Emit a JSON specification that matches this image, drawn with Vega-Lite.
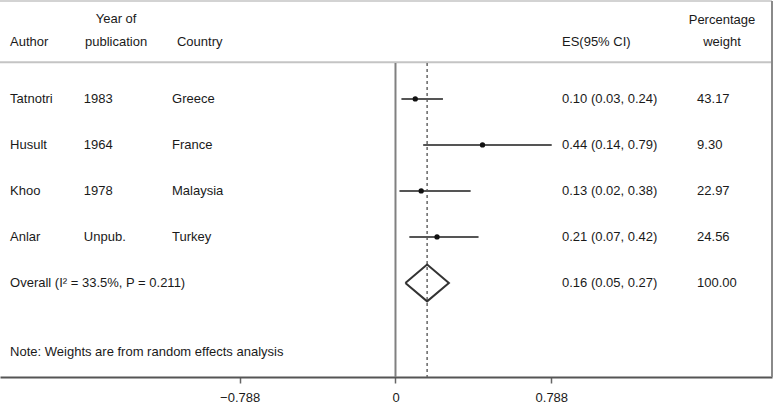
{
  "$schema": "https://vega.github.io/schema/vega-lite/v6.json",
  "width": 772,
  "height": 376,
  "autosize": {"type": "none"},
  "padding": {"left": 0, "top": 1, "right": 3, "bottom": 29},
  "background": "white",
  "config": {
    "view": {"stroke": null},
    "font": "Liberation Sans",
    "axisY": {"disable": true},
    "text": {"font": "Liberation Sans", "fontSize": 13, "fontWeight": "normal", "color": "#1a1a1a", "baseline": "middle", "align": "left"}
  },
  "datasets": {
    "studies": [
      {"row": 1, "author": "Tatnotri", "year": "1983", "country": "Greece", "es": 0.10, "lo": 0.03, "hi": 0.24, "ci": "0.10 (0.03, 0.24)", "weight": "43.17", "type": "study"},
      {"row": 2, "author": "Husult", "year": "1964", "country": "France", "es": 0.44, "lo": 0.14, "hi": 0.79, "ci": "0.44 (0.14, 0.79)", "weight": "9.30", "type": "study"},
      {"row": 3, "author": "Khoo", "year": "1978", "country": "Malaysia", "es": 0.13, "lo": 0.02, "hi": 0.38, "ci": "0.13 (0.02, 0.38)", "weight": "22.97", "type": "study"},
      {"row": 4, "author": "Anlar", "year": "Unpub.", "country": "Turkey", "es": 0.21, "lo": 0.07, "hi": 0.42, "ci": "0.21 (0.07, 0.42)", "weight": "24.56", "type": "study"},
      {"row": 5, "author": "Overall (I² = 33.5%, P = 0.211)", "year": "", "country": "", "es": 0.16, "lo": 0.05, "hi": 0.27, "ci": "0.16 (0.05, 0.27)", "weight": "100.00", "type": "overall"}
    ],
    "diamond": [
      {"x": 0.05, "y": 5, "o": 1},
      {"x": 0.16, "y": 4.6, "o": 2},
      {"x": 0.27, "y": 5, "o": 3},
      {"x": 0.16, "y": 5.4, "o": 4},
      {"x": 0.05, "y": 5, "o": 5}
    ],
    "one": [{"n": 1}]
  },
  "data": {"name": "studies"},
  "layer": [
    {
      "data": {"name": "one"},
      "mark": {"type": "rule", "color": "#c4c4c4", "strokeWidth": 1.5},
      "encoding": {
        "y": {"datum": -1.13, "type": "quantitative", "scale": {"domain": [-1.13, 7.044], "reverse": true, "nice": false, "zero": false}}
      }
    },
    {
      "data": {"name": "one"},
      "mark": {"type": "rule", "color": "#c4c4c4", "strokeWidth": 2},
      "encoding": {"y": {"datum": 0.2, "type": "quantitative"}}
    },
    {
      "data": {"name": "one"},
      "mark": {"type": "rule", "color": "#8a8a8a", "strokeWidth": 2},
      "encoding": {
        "x": {"datum": 1.904, "type": "quantitative", "title": null,
          "scale": {"domain": [-2.0, 1.904], "nice": false, "zero": false},
          "axis": {"values": [-0.788, 0, 0.788], "labelExpr": "datum.value == 0 ? '0' : format(datum.value, '.3f')", "grid": false, "domainColor": "#555", "domainWidth": 2, "tickColor": "#666", "tickSize": 6, "tickWidth": 1.5, "labelFont": "Liberation Sans", "labelFontSize": 13, "labelColor": "#1a1a1a", "labelPadding": 8, "title": null}}
      }
    },
    {
      "data": {"name": "one"},
      "mark": {"type": "rule", "color": "#808080", "strokeWidth": 2},
      "encoding": {
        "x": {"datum": 0, "type": "quantitative", "title": null},
        "y": {"datum": 0.22, "type": "quantitative"},
        "y2": {"datum": 7.044}
      }
    },
    {
      "transform": [{"filter": "datum.type == 'overall'"}],
      "mark": {"type": "rule", "color": "#666", "strokeWidth": 1.5, "strokeDash": [3, 3]},
      "encoding": {
        "x": {"field": "es", "type": "quantitative", "title": null},
        "y": {"datum": 0.22, "type": "quantitative"},
        "y2": {"datum": 7.044}
      }
    },
    {
      "transform": [{"filter": "datum.type == 'study'"}],
      "mark": {"type": "rule", "color": "#555", "strokeWidth": 2},
      "encoding": {
        "x": {"field": "lo", "type": "quantitative", "title": null},
        "x2": {"field": "hi"},
        "y": {"field": "row", "type": "quantitative"}
      }
    },
    {
      "transform": [{"filter": "datum.type == 'study'"}],
      "mark": {"type": "point", "filled": true, "color": "#111", "size": 28, "opacity": 1},
      "encoding": {
        "x": {"field": "es", "type": "quantitative", "title": null},
        "y": {"field": "row", "type": "quantitative"}
      }
    },
    {
      "data": {"name": "diamond"},
      "mark": {"type": "line", "color": "#333", "strokeWidth": 2},
      "encoding": {
        "x": {"field": "x", "type": "quantitative", "title": null},
        "y": {"field": "y", "type": "quantitative"},
        "order": {"field": "o", "type": "quantitative"}
      }
    },
    {
      "mark": {"type": "text"},
      "encoding": {
        "x": {"datum": -1.949, "type": "quantitative", "title": null},
        "y": {"field": "row", "type": "quantitative"},
        "text": {"field": "author"}
      }
    },
    {
      "mark": {"type": "text"},
      "encoding": {
        "x": {"datum": -1.576, "type": "quantitative", "title": null},
        "y": {"field": "row", "type": "quantitative"},
        "text": {"field": "year"}
      }
    },
    {
      "mark": {"type": "text"},
      "encoding": {
        "x": {"datum": -1.130, "type": "quantitative", "title": null},
        "y": {"field": "row", "type": "quantitative"},
        "text": {"field": "country"}
      }
    },
    {
      "mark": {"type": "text"},
      "encoding": {
        "x": {"datum": 0.842, "type": "quantitative", "title": null},
        "y": {"field": "row", "type": "quantitative"},
        "text": {"field": "ci"}
      }
    },
    {
      "mark": {"type": "text"},
      "encoding": {
        "x": {"datum": 1.525, "type": "quantitative", "title": null},
        "y": {"field": "row", "type": "quantitative"},
        "text": {"field": "weight"}
      }
    },
    {
      "data": {"name": "one"},
      "mark": {"type": "text", "text": "Author"},
      "encoding": {"x": {"datum": -1.949, "type": "quantitative", "title": null}, "y": {"datum": -0.24, "type": "quantitative"}}
    },
    {
      "data": {"name": "one"},
      "mark": {"type": "text", "text": "Year of", "align": "center"},
      "encoding": {"x": {"datum": -1.413, "type": "quantitative", "title": null}, "y": {"datum": -0.73, "type": "quantitative"}}
    },
    {
      "data": {"name": "one"},
      "mark": {"type": "text", "text": "publication", "align": "center"},
      "encoding": {"x": {"datum": -1.413, "type": "quantitative", "title": null}, "y": {"datum": -0.24, "type": "quantitative"}}
    },
    {
      "data": {"name": "one"},
      "mark": {"type": "text", "text": "Country"},
      "encoding": {"x": {"datum": -1.105, "type": "quantitative", "title": null}, "y": {"datum": -0.24, "type": "quantitative"}}
    },
    {
      "data": {"name": "one"},
      "mark": {"type": "text", "text": "ES(95% CI)"},
      "encoding": {"x": {"datum": 0.842, "type": "quantitative", "title": null}, "y": {"datum": -0.24, "type": "quantitative"}}
    },
    {
      "data": {"name": "one"},
      "mark": {"type": "text", "text": "Percentage", "align": "center"},
      "encoding": {"x": {"datum": 1.651, "type": "quantitative", "title": null}, "y": {"datum": -0.72, "type": "quantitative"}}
    },
    {
      "data": {"name": "one"},
      "mark": {"type": "text", "text": "weight", "align": "center"},
      "encoding": {"x": {"datum": 1.651, "type": "quantitative", "title": null}, "y": {"datum": -0.24, "type": "quantitative"}}
    },
    {
      "data": {"name": "one"},
      "mark": {"type": "text", "text": "Note: Weights are from random effects analysis"},
      "encoding": {"x": {"datum": -1.949, "type": "quantitative", "title": null}, "y": {"datum": 6.5, "type": "quantitative"}}
    }
  ]
}
